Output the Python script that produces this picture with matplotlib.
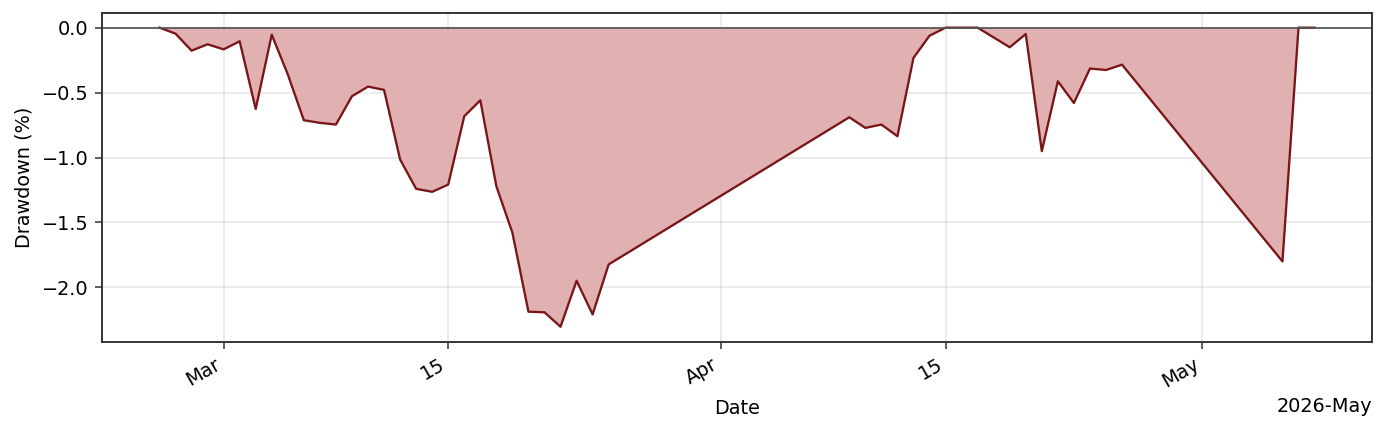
import matplotlib
matplotlib.use("Agg")
import matplotlib.pyplot as plt
import matplotlib.dates as mdates
import pandas as pd
import numpy as np

dates = [
    "2026-02-25", "2026-02-26", "2026-02-27", "2026-02-28", "2026-03-01",
    "2026-03-02", "2026-03-03", "2026-03-04", "2026-03-05", "2026-03-06",
    "2026-03-07", "2026-03-08", "2026-03-09", "2026-03-10", "2026-03-11",
    "2026-03-12", "2026-03-13", "2026-03-14", "2026-03-15", "2026-03-16",
    "2026-03-17", "2026-03-18", "2026-03-19", "2026-03-20", "2026-03-21",
    "2026-03-22", "2026-03-23", "2026-03-24", "2026-03-25",
    "2026-04-09", "2026-04-10", "2026-04-11", "2026-04-12", "2026-04-13",
    "2026-04-14", "2026-04-15", "2026-04-16", "2026-04-17",
    "2026-04-19", "2026-04-20", "2026-04-21", "2026-04-22", "2026-04-23",
    "2026-04-24", "2026-04-25", "2026-04-26",
    "2026-05-06", "2026-05-07", "2026-05-08",
]
drawdown = [
    0.0, -0.046, -0.177, -0.128, -0.167,
    -0.105, -0.626, -0.054, -0.36, -0.713,
    -0.733, -0.746, -0.528, -0.454, -0.479,
    -1.015, -1.241, -1.264, -1.208, -0.682,
    -0.559, -1.221, -1.579, -2.187, -2.192,
    -2.303, -1.949, -2.208, -1.823,
    -0.69, -0.772, -0.746, -0.836, -0.233,
    -0.062, 0.0, 0.0, 0.0,
    -0.151, -0.049, -0.951, -0.413, -0.58,
    -0.315, -0.326, -0.285,
    -1.80, 0.0, 0.0,
]

x = pd.to_datetime(dates)
y = np.array(drawdown)

line_color = "#7a1518"
fill_color = "#e1b1b1"

DPI = 138.5
fig = plt.figure(figsize=(1385 / DPI, 433 / DPI), dpi=DPI)
ax = fig.add_axes([101.7 / 1385, 1 - 341.7 / 433, (1372.3 - 101.7) / 1385, (341.7 - 12.7) / 433])

ax.fill_between(x, y, 0, color=fill_color, linewidth=0)
ax.plot(x, y, color=line_color, linewidth=1.2)
ax.axhline(0, color="#555555", linewidth=0.9)

ax.grid(True, color="#cccccc", alpha=0.5, linewidth=0.8)
ax.set_axisbelow(True)

locator = mdates.AutoDateLocator()
ax.xaxis.set_major_locator(locator)
ax.xaxis.set_major_formatter(mdates.ConciseDateFormatter(locator))
for lbl in ax.get_xticklabels():
    lbl.set_rotation(30)
    lbl.set_ha("right")

for s in ax.spines.values():
    s.set_color("#333333")
    s.set_linewidth(1.0)
ax.tick_params(colors="#333333", labelcolor="black")

ax.set_xlabel("Date")
ax.set_ylabel("Drawdown (%)")

fig.savefig("out.png", dpi=DPI)
